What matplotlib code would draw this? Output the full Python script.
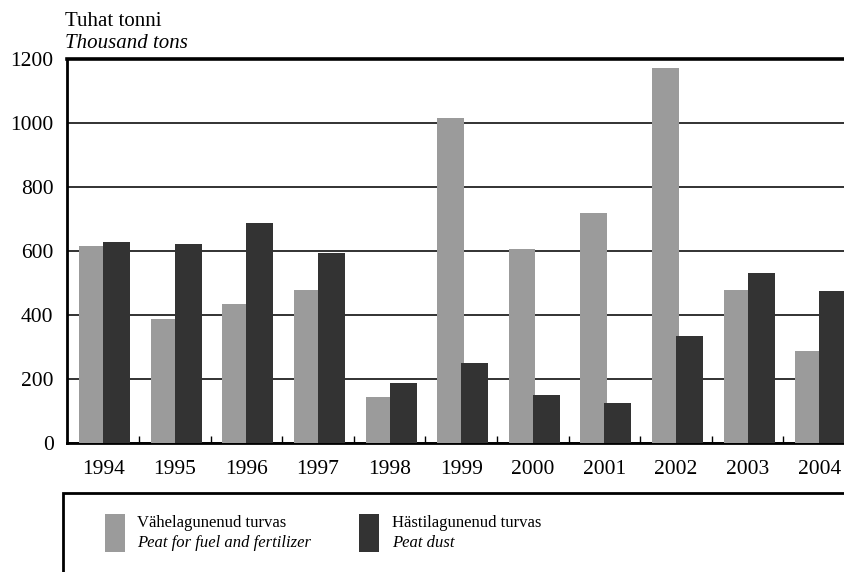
import matplotlib
matplotlib.use("Agg")
import matplotlib.pyplot as plt
import numpy as np
from matplotlib.patches import Rectangle

years = ["1994", "1995", "1996", "1997", "1998", "1999",
         "2000", "2001", "2002", "2003", "2004"]
fuel_fertilizer = [615, 387, 434, 478, 144, 1015, 606, 719, 1172, 478, 287]
peat_dust = [628, 622, 687, 594, 187, 250, 150, 125, 334, 531, 475]

label_fuel = ("Vähelagunenud turvas", "Peat for fuel and fertilizer")
label_dust = ("Hästilagunenud turvas", "Peat dust")
unit_et = "Tuhat tonni"
unit_en = "Thousand tons"

LIGHT = "#9b9b9b"
DARK = "#333333"
FONT = "Liberation Serif"

plt.rcParams["font.family"] = FONT

fig = plt.figure(figsize=(8.45, 5.72), dpi=100)
ax = fig.add_axes([67.4 / 845, 129 / 572, (855 - 67.4) / 845, 384 / 572])

x = np.arange(len(years))
ax.bar(x - 0.335, fuel_fertilizer, width=0.37, align="edge", color=LIGHT, zorder=3)
ax.bar(x, peat_dust, width=0.377, align="edge", color=DARK, zorder=4)

ax.set_xlim(-0.5, len(years) - 0.5)
ax.set_ylim(0, 1200)
ax.set_yticks(range(0, 1201, 200))
ax.set_xticks(x)
ax.set_xticklabels(years)
ax.set_xticks(x[:-1] + 0.5, minor=True)
ax.tick_params(axis="x", which="major", length=0, pad=12, labelsize=15.5)
ax.tick_params(axis="x", which="minor", direction="in", length=5, width=1, color="black")
ax.tick_params(axis="y", length=0, pad=10, labelsize=15.5)

ax.yaxis.grid(True, color="#222222", linewidth=1.3, zorder=1)
ax.set_axisbelow(True)

for side in ["left", "bottom"]:
    ax.spines[side].set_linewidth(2)
    ax.spines[side].set_color("black")
ax.spines["top"].set_linewidth(2.6)
ax.spines["top"].set_color("black")
ax.spines["right"].set_visible(False)

fig.text(65 / 845, 1 - 22 / 572, unit_et, fontsize=15, va="center", ha="left")
fig.text(65 / 845, 1 - 44 / 572, unit_en, fontsize=15, style="italic", va="center", ha="left")

# legend box running off the page
fig.patches.append(Rectangle((63 / 845, -0.1), 1.0, 0.1 + (572 - 493) / 572,
                             transform=fig.transFigure, fill=False,
                             edgecolor="black", linewidth=2, clip_on=False))

entries = [(105, 137, LIGHT, label_fuel), (359, 392, DARK, label_dust)]
for sq_x, tx, col, (line1, line2) in entries:
    fig.patches.append(Rectangle((sq_x / 845, (572 - 552) / 572), 20 / 845, 38 / 572,
                                 transform=fig.transFigure, facecolor=col,
                                 edgecolor="none"))
    fig.text(tx / 845, 1 - 523 / 572, line1, fontsize=12, va="center", ha="left")
    fig.text(tx / 845, 1 - 543 / 572, line2, fontsize=12, style="italic",
             va="center", ha="left")

fig.savefig("out.png", dpi=100, facecolor="white")
